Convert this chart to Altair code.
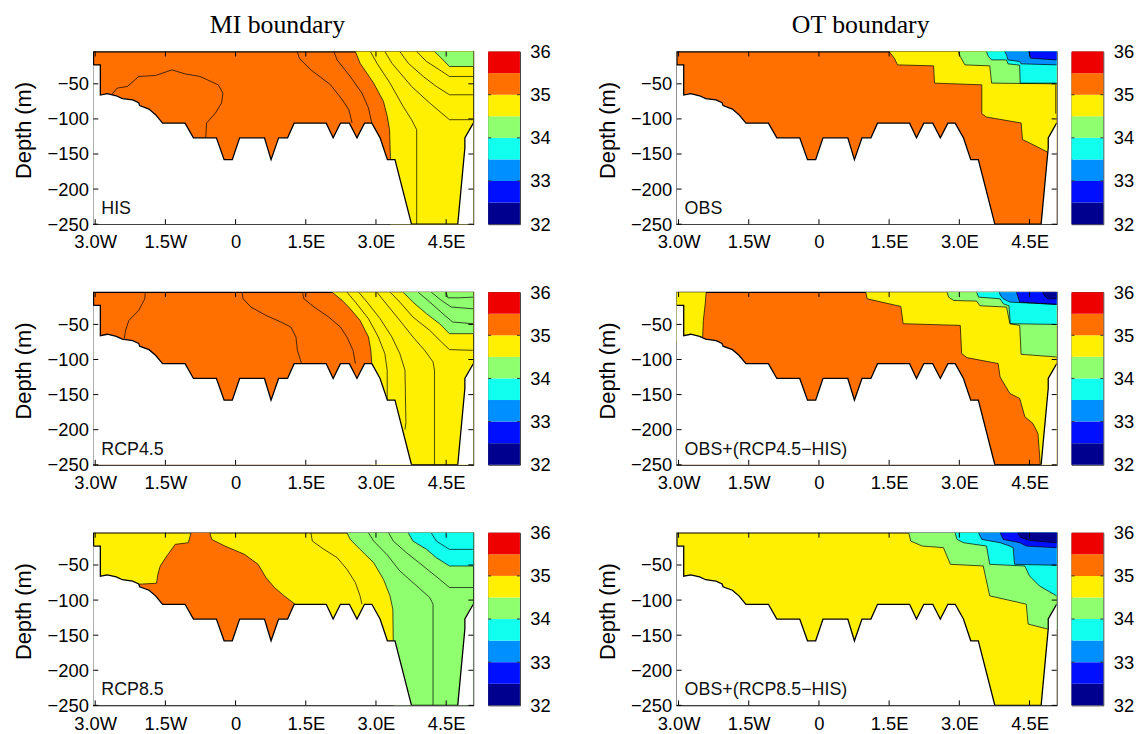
import altair as alt
import pandas as pd

# ---------------- salinity classes (colour bands, 32-36 psu, step 0.5) ----------------
CLASS_NAMES = ["navy", "blue", "azure", "cyan", "green", "yellow", "orange", "red"]
CLASS_COLORS = ["#00008F", "#0010FF", "#008FFF", "#10FFEF", "#8FFF70", "#FFEF00", "#FF7000", "#EF0000"]
CLASS_LO = [32.0, 32.5, 33.0, 33.5, 34.0, 34.5, 35.0, 35.5]
COLOR_OF = dict(zip(CLASS_NAMES, CLASS_COLORS))

# ---------------- axes ----------------
X_DOMAIN = [-3.04, 5.08]
Y_DOMAIN = [-250, -4]
X_TICKS = [-3.0, -1.5, 0.0, 1.5, 3.0, 4.5]
X_LABELS = ["3.0W", "1.5W", "0", "1.5E", "3.0E", "4.5E"]
Y_TICKS = [-50, -100, -150, -200, -250]
CB_TICKS = [32, 33, 34, 35, 36]
CB_MINOR = [33, 34, 35]

# ---------------- bottom topography (same section in all panels) ----------------
BATHY_X = [-3.04, -2.89, -2.89, -2.74, -2.55, -2.42, -2.2, -2.07, -2.05, -1.85, -1.71, -1.56,
           -1.08, -0.90, -0.41, -0.245, -0.07, 0.087, 0.617, 0.758, 0.92, 1.111, 1.252, 1.937,
           2.085, 2.241, 2.432, 2.594, 2.756, 2.912, 3.088, 3.244, 3.406, 3.759, 4.748, 4.90,
           4.90, 5.08]
BATHY_D = [-23, -23, -66, -64, -67, -71, -73, -77, -81, -86, -94, -106,
           -106, -127, -127, -158, -158, -127, -127, -158, -127, -127, -106, -106,
           -127, -106, -106, -127, -106, -106, -127, -158, -158, -250, -250, -141,
           -127, -106]
MASK_CX = [5.2, 5.2, -3.2, -3.2]
MASK_CD = [-106, -270, -270, -23]

# ---------------- panel contents: (class, boundary x, boundary depth, closure x, closure depth) ----
HIS_BASE = "orange"
HIS_REGIONS = [
    ("yellow", [2.56, 2.66, 2.95, 3.16, 3.24, 3.29, 3.31], [-4, -20.6, -49, -75, -96, -115, -158],
     [3.31, 5.2, 5.2, 2.56], [-270, -270, 0, 0]),
    ("green", [4.25, 4.40, 4.57, 5.08], [-4, -13.5, -25.3, -25.3], [5.2, 5.2, 4.25], [-25.3, 0, 0]),
]
HIS_LINES = [
    ([2.88, 3.02, 3.30, 3.58, 3.76, 3.87, 3.87], [-4, -20.6, -49, -82.1, -101.1, -115.3, -250]),
    ([3.19, 3.34, 3.76, 4.15, 4.40, 4.57, 5.08], [-4, -20.6, -53.7, -77.4, -91.6, -101.1, -101.1]),
    ([3.51, 3.69, 4.01, 4.29, 4.57, 5.08], [-4, -20.6, -39.5, -53.7, -65.6, -65.6]),
    ([3.87, 4.08, 4.36, 4.57, 5.08], [-4, -18.2, -30.1, -39.5, -39.5]),
    ([2.10, 2.17, 2.45, 2.70, 2.84, 2.91], [-4, -15.9, -39.5, -63.2, -84.5, -105.8]),
    ([1.32, 1.36, 1.61, 2.03, 2.28, 2.42, 2.49], [-4, -13.5, -30.1, -51.4, -72.7, -86.9, -105.8]),
    ([-2.67, -2.53, -2.31, -2.07, -1.71, -1.36, -1.08, -0.76, -0.37, -0.27, -0.30, -0.43, -0.62, -0.64],
     [-67, -56.1, -53.7, -39.5, -38.1, -30.1, -35.8, -39.5, -51.4, -63.2, -77.4, -91.6, -105.8, -129.5]),
]

OBS_BASE = "orange"
OBS_REGIONS = [
    ("yellow", [1.50, 1.61, 1.68, 2.45, 2.47, 3.48, 3.48, 3.58, 4.32, 4.35, 4.50, 4.89],
     [-4, -13.5, -23, -24.4, -49, -51.4, -92.6, -97.3, -105.8, -129.5, -134.2, -147.5],
     [5.2, 5.2, 1.50], [-147.5, 0, 0]),
    ("green", [2.98, 3.02, 3.12, 3.65, 3.69, 5.08], [-4, -11.1, -23, -24.4, -49, -50],
     [5.2, 5.2, 2.98], [-50, 0, 0]),
    ("cyan", [3.58, 3.62, 3.69, 4.01, 4.04, 4.29, 4.30, 5.08], [-4, -11.1, -15.9, -15.9, -21.5, -23.4, -49, -49],
     [5.2, 5.2, 3.58], [-49, 0, 0]),
    ("azure", [3.97, 4.01, 4.04, 4.29, 4.32, 5.08], [-4, -8.8, -15.9, -18.2, -21.5, -23],
     [5.2, 5.2, 3.97], [-23, 0, 0]),
    ("blue", [4.47, 4.50, 4.52, 5.08], [-4, -6.4, -13.5, -15.9], [5.2, 5.2, 4.47], [-15.9, 0, 0]),
]
OBS_LINES = [
    ([5.06, 5.06], [-51.4, -92.6]),
]

R45_BASE = "orange"
R45_REGIONS = [
    ("yellow", [2.06, 2.28, 2.45, 2.66, 2.84, 2.89, 2.91], [-4, -15.9, -27.7, -44.3, -67.9, -86.9, -105.8],
     [2.91, 5.2, 5.2, 2.06], [-270, -270, 0, 0]),
    ("green", [3.58, 3.79, 4.08, 4.36, 4.57, 5.08], [-4, -18.2, -34.8, -49, -63.2, -63.2],
     [5.2, 5.2, 3.58], [-63.2, 0, 0]),
]
R45_LINES = [
    ([2.38, 2.56, 2.84, 3.05, 3.19, 3.24, 3.24], [-4, -18.2, -41.9, -67.9, -91.6, -115.3, -157.9]),
    ([2.63, 2.81, 3.09, 3.34, 3.51, 3.62, 3.64, 3.62], [-4, -18.2, -41.9, -67.9, -91.6, -115.3, -190, -200]),
    ([3.02, 3.19, 3.48, 3.79, 4.04, 4.22, 4.25, 4.25], [-4, -18.2, -41.9, -67.9, -86.9, -103.5, -115.3, -250]),
    ([3.30, 3.51, 3.79, 4.15, 4.40, 4.57, 5.08], [-4, -18.2, -39.5, -58.5, -75.1, -85.9, -86.9]),
    ([3.90, 4.15, 4.43, 4.64, 5.08], [-4, -18.2, -34.8, -46.6, -49]),
    ([4.18, 4.40, 4.61, 5.08], [-4, -15.9, -25.3, -27.7]),
    ([4.49, 4.54, 4.78, 5.08], [-4, -12.1, -12.1, -11.1]),
    ([-1.93, -1.94, -2.07, -2.28, -2.35, -2.38], [-4, -13.5, -30.1, -44.3, -58.5, -70.3]),
    ([0.14, 0.16, 0.33, 0.65, 0.97, 1.18, 1.29, 1.32, 1.41], [-4, -13.5, -25.3, -37.2, -46.6, -53.7, -67.9, -86.9, -105.8]),
    ([1.43, 1.46, 1.68, 1.99, 2.24, 2.38, 2.51, 2.56], [-4, -13.5, -25.3, -39.5, -53.7, -67.9, -86.9, -105.8]),
]

O45_BASE = "orange"
O45_REGIONS = [
    ("yellow", [-2.41, -2.43, -2.47, -2.49], [-4, -20.6, -44.3, -75], [-3.2, -3.2, -2.41], [-75, 0, 0]),
    ("yellow", [1.00, 1.03, 1.75, 1.80, 3.02, 3.05, 3.16, 3.83, 3.87, 4.08, 4.29, 4.40, 4.57, 4.68, 4.73],
     [-4, -13.5, -24.4, -49, -51.4, -91.6, -97.3, -105.8, -124.8, -148.4, -155.5, -181.6, -191, -205.3, -250],
     [4.73, 5.2, 5.2, 1.00], [-270, -270, 0, 0]),
    ("green", [2.74, 2.77, 2.88, 3.37, 3.44, 4.01, 4.08, 4.29, 4.32, 5.08],
     [-4, -11.1, -15.9, -16.8, -23.4, -25.3, -49, -51.4, -92.6, -96.4], [5.2, 5.2, 2.74], [-96.4, 0, 0]),
    ("cyan", [3.37, 3.41, 3.87, 3.94, 4.06, 4.09, 5.08], [-4, -11.1, -13.5, -20.6, -23.4, -49, -50],
     [5.2, 5.2, 3.37], [-50, 0, 0]),
    ("azure", [3.85, 3.88, 3.94, 4.08, 5.08], [-4, -8.8, -13.5, -18.2, -21.5], [5.2, 5.2, 3.85], [-21.5, 0, 0]),
    ("blue", [4.22, 4.25, 4.29, 5.08], [-4, -10.2, -18.2, -21.5], [5.2, 5.2, 4.22], [-21.5, 0, 0]),
    ("navy", [4.78, 4.82, 4.89, 5.08], [-4, -8.8, -13.5, -13.5], [5.2, 5.2, 4.78], [-13.5, 0, 0]),
]
O45_LINES = []

R85_BASE = "yellow"
R85_REGIONS = [
    ("orange", [-0.95, -1.01, -1.29, -1.47, -1.61, -1.66, -1.69, -2.07],
     [-4, -18.2, -20.6, -37.2, -51.4, -63.2, -76, -77.4],
     [-2.14, -2.14, 1.35, 1.27, 1.04, 0.83, 0.65, 0.48, 0.19, -0.23, -0.51, -0.55, -0.55, -0.95],
     [-77.4, -200, -200, -105.8, -94, -82.1, -67.9, -49, -34.8, -23, -13.5, -4, 0, 0]),
    ("green", [2.38, 2.45, 2.66, 2.95, 3.16, 3.30, 3.36, 3.37], [-4, -13.5, -27.7, -46.6, -70.3, -94, -112.9, -157.9],
     [3.37, 5.2, 5.2, 2.38], [-270, -270, 0, 0]),
    ("cyan", [3.69, 3.79, 4.08, 4.29, 4.57, 5.08], [-4, -15.9, -27.7, -39.5, -51.4, -51.4],
     [5.2, 5.2, 3.69], [-51.4, 0, 0]),
]
R85_LINES = [
    ([-0.55, -0.51, -0.23, 0.19, 0.48, 0.65, 0.83, 1.04, 1.27], [-4, -13.5, -23, -34.8, -49, -67.9, -82.1, -94, -105.8]),
    ([1.61, 1.64, 1.89, 2.17, 2.38, 2.56, 2.66, 2.70], [-4, -15.9, -27.7, -39.5, -56.1, -75.1, -94, -105.8]),
    ([2.84, 2.95, 3.23, 3.51, 3.87, 4.15, 4.22, 4.22], [-4, -15.9, -34.8, -58.5, -79.8, -96.4, -105.8, -250]),
    ([3.27, 3.37, 3.65, 4.01, 4.36, 4.57, 5.08], [-4, -15.9, -32.4, -51.4, -70.3, -82.1, -82.1]),
    ([4.18, 4.29, 4.57, 5.08], [-4, -15.9, -27.7, -27.7]),
]

O85_BASE = "yellow"
O85_REGIONS = [
    ("green", [1.92, 1.96, 2.21, 2.66, 2.81, 3.51, 3.65, 4.43, 4.47, 4.89],
     [-4, -15.9, -23, -25.3, -49, -51.4, -94, -105.8, -134.2, -141.3], [5.2, 5.2, 1.92], [-141.3, 0, 0]),
    ("cyan", [2.91, 2.95, 3.09, 3.58, 3.65, 4.40, 4.50, 4.71, 5.08],
     [-4, -13.5, -18.2, -23, -49, -51.4, -65.6, -79.8, -94], [5.2, 5.2, 2.91], [-94, 0, 0]),
    ("azure", [3.41, 3.48, 3.87, 4.08, 4.15, 4.18, 5.08], [-4, -13.5, -18.2, -23, -25.3, -49, -50.4],
     [5.2, 5.2, 3.41], [-50.4, 0, 0]),
    ("blue", [3.87, 3.94, 4.29, 4.43, 5.08], [-4, -13.5, -18.2, -23, -25.3], [5.2, 5.2, 3.87], [-25.3, 0, 0]),
    ("navy", [4.25, 4.30, 4.50, 4.82, 5.08], [-4, -10.2, -14.9, -16.8, -18.2], [5.2, 5.2, 4.25], [-18.2, 0, 0]),
]
O85_LINES = []

# ---------------- styling ----------------
PW, PH = 383, 174
SANS = "Liberation Sans"
SERIF = "Liberation Serif"
TICK_FS = 18.5

xscale = alt.Scale(domain=X_DOMAIN, nice=False, zero=False)
yscale = alt.Scale(domain=Y_DOMAIN, nice=False, zero=False)

x_label_expr = " : ".join(f"datum.value == {v} ? '{t}'" for v, t in zip(X_TICKS, X_LABELS)) + " : ''"
y_label_expr = "datum.value < 0 ? '\u2212' + format(-datum.value, 'd') : format(datum.value, 'd')"

XAXIS = alt.Axis(values=X_TICKS, labelExpr=x_label_expr, ticks=False, domain=False, grid=False,
                 labelFont=SANS, labelFontSize=TICK_FS, labelColor="black", labelPadding=9,
                 labelFlush=False, labelOverlap=False, title=None)
YAXIS = alt.Axis(values=Y_TICKS, labelExpr=y_label_expr, ticks=False, domain=False, grid=False,
                 labelFont=SANS, labelFontSize=TICK_FS, labelColor="black", labelPadding=5,
                 labelFlush=False, labelOverlap=False,
                 title="Depth (m)", titleFont=SANS, titleFontSize=22, titleFontWeight="normal",
                 titleColor="black", titleX=-70, titleY=79, titleAngle=270,
                 titleBaseline="middle", titleAlign="center")

XENC = alt.X("x:Q", scale=xscale, axis=XAXIS)
YENC = alt.Y("d:Q", scale=yscale, axis=YAXIS)


def xy(chart):
    return chart.encode(x=XENC, y=YENC, order=alt.Order("i:Q"))


def polygon(xs, ds, fill):
    df = pd.DataFrame({"x": xs, "d": ds, "i": list(range(len(xs)))})
    return xy(alt.Chart(df).mark_line(fill=fill, strokeWidth=0, clip=True))


def panel(base, regions, extra_lines, label, title=None):
    layers = []
    for cls, bx, bd, cx, cd in regions:
        layers.append(polygon(list(bx) + list(cx), list(bd) + list(cd), COLOR_OF[cls]))
    rows = []
    all_lines = [(bx, bd) for (_, bx, bd, _, _) in regions] + list(extra_lines)
    for k, (lx, ld) in enumerate(all_lines):
        for i, (a, b) in enumerate(zip(lx, ld)):
            rows.append({"x": a, "d": b, "i": i, "k": k})
    ldf = pd.DataFrame(rows)
    layers.append(xy(alt.Chart(ldf).mark_line(color="black", strokeWidth=0.7, clip=True)).encode(detail="k:N"))
    # land mask and bottom line
    layers.append(polygon(BATHY_X + MASK_CX, BATHY_D + MASK_CD, "white"))
    bdf = pd.DataFrame({"x": BATHY_X, "d": BATHY_D, "i": list(range(len(BATHY_X)))})
    layers.append(xy(alt.Chart(bdf).mark_line(color="black", strokeWidth=1.3, clip=True)))
    # inward ticks (MATLAB style)
    xt = pd.DataFrame({"x": X_TICKS})
    yt = pd.DataFrame({"d": Y_TICKS})
    for y0, y1 in [(0, 5), (PH - 5, PH)]:
        layers.append(alt.Chart(xt).mark_rule(color="black", strokeWidth=1).encode(
            x=XENC, y=alt.value(y0), y2=alt.value(y1)))
    for x0, x1 in [(0, 5), (PW - 5, PW)]:
        layers.append(alt.Chart(yt).mark_rule(color="black", strokeWidth=1).encode(
            y=YENC, x=alt.value(x0), x2=alt.value(x1)))
    # panel label
    layers.append(alt.Chart(pd.DataFrame({"t": [label]})).mark_text(
        align="left", baseline="alphabetic", font=SANS, fontSize=18, color="#111111").encode(
        text="t:N", x=alt.value(8), y=alt.value(164)))
    props = dict(width=PW, height=PH,
                 view=alt.ViewBackground(fill=COLOR_OF[base], stroke="black", strokeWidth=1.2))
    if title:
        props["title"] = alt.TitleParams(title, font=SERIF, fontSize=26, fontWeight="normal",
                                         color="black", frame="group", offset=13, dx=-6)
    return alt.layer(*layers).properties(**props)


CB_SCALE = alt.Scale(domain=[32, 36], nice=False, zero=False)
CB_AXIS = alt.Axis(orient="right", values=CB_TICKS, format="d", ticks=False, domain=False,
                   grid=False, labelFont=SANS, labelFontSize=TICK_FS, labelColor="black",
                   labelPadding=10, labelFlush=False, labelOverlap=False, title=None)


def colorbar():
    df = pd.DataFrame({"lo": CLASS_LO, "hi": [v + 0.5 for v in CLASS_LO], "c": CLASS_NAMES})
    bands = alt.Chart(df).mark_rect().encode(
        y=alt.Y("lo:Q", scale=CB_SCALE, axis=CB_AXIS),
        y2="hi:Q",
        color=alt.Color("c:N", scale=alt.Scale(domain=CLASS_NAMES, range=CLASS_COLORS), legend=None),
    )
    tdf = pd.DataFrame({"v": CB_MINOR})
    layers = [bands]
    for x0, x1 in [(0, 3), (29, 32)]:
        layers.append(alt.Chart(tdf).mark_rule(color="#333333", strokeWidth=1).encode(
            y=alt.Y("v:Q", scale=CB_SCALE, axis=CB_AXIS), x=alt.value(x0), x2=alt.value(x1)))
    return alt.layer(*layers).properties(
        width=32, height=PH, view=alt.ViewBackground(stroke="#333333", strokeWidth=1))


def spacer():
    return alt.Chart(pd.DataFrame({"t": [""]})).mark_text().encode(text="t:N").properties(
        width=128, height=PH, view=alt.ViewBackground(strokeOpacity=0))


charts = [
    panel(HIS_BASE, HIS_REGIONS, HIS_LINES, "HIS", "MI boundary"), colorbar(), spacer(),
    panel(OBS_BASE, OBS_REGIONS, OBS_LINES, "OBS", "OT boundary"), colorbar(),
    panel(R45_BASE, R45_REGIONS, R45_LINES, "RCP4.5"), colorbar(), spacer(),
    panel(O45_BASE, O45_REGIONS, O45_LINES, "OBS+(RCP4.5\u2212HIS)"), colorbar(),
    panel(R85_BASE, R85_REGIONS, R85_LINES, "RCP8.5"), colorbar(), spacer(),
    panel(O85_BASE, O85_REGIONS, O85_LINES, "OBS+(RCP8.5\u2212HIS)"), colorbar(),
]

chart = alt.concat(*charts, columns=5, spacing={"row": 68.5, "column": 15}, bounds="flush").properties(
    padding={"left": 4, "top": 0, "right": 5, "bottom": 0}
).configure(background="white")

chart.save("out.html", embed_options={"renderer": "svg", "actions": False})
